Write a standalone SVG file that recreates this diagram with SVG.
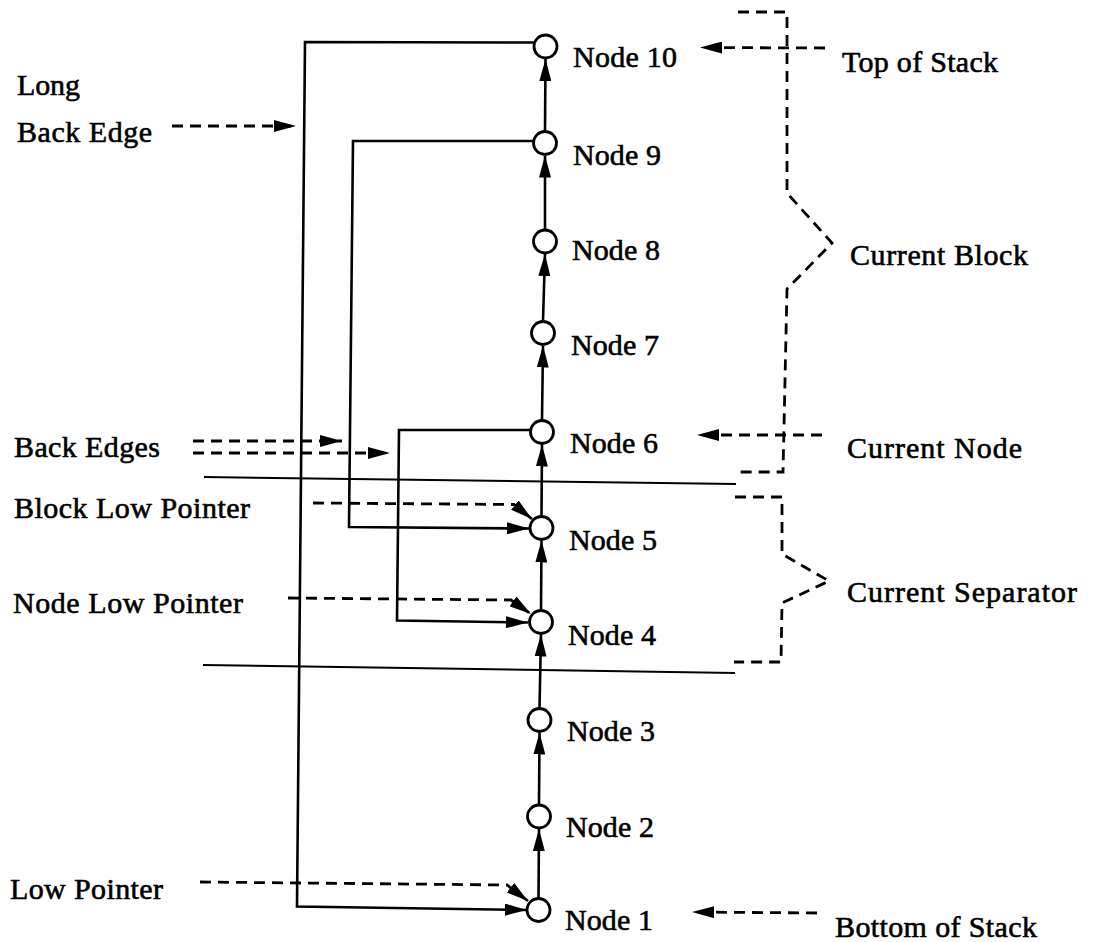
<svg xmlns="http://www.w3.org/2000/svg" width="1098" height="942" viewBox="0 0 1098 942">
<style>
  text { font-family: "Liberation Serif", "Times New Roman", serif; font-size: 30px; fill: #000; stroke: #000; stroke-width: 0.6px; }
  .node circle { fill: #fff; stroke: #000; stroke-width: 2.8; }
  .solid { fill: none; stroke: #000; stroke-width: 2.6; }
  .thin { fill: none; stroke: #000; stroke-width: 2; }
  .dash { fill: none; stroke: #000; stroke-width: 2.8; stroke-dasharray: 11 7; }
  .arr { marker-end: url(#ah); }
</style>
<defs>
  <marker id="ah" markerUnits="userSpaceOnUse" markerWidth="23" markerHeight="12" refX="22" refY="6" orient="auto">
    <path d="M0,0 L22,6 L0,12 z" fill="#000"/>
  </marker>
</defs>
<rect width="1098" height="942" fill="#fff"/>

<g id="connectors">
  <!-- stack edges -->
  <path class="solid arr" d="M538.5,897.5 L539,829"/>
  <path class="solid arr" d="M539,804 L539.5,732.5"/>
  <path class="solid arr" d="M539.5,707.5 L541,634.5"/>
  <path class="solid arr" d="M541,609.5 L541.5,540.5"/>
  <path class="solid arr" d="M541.5,515.5 L542,444.5"/>
  <path class="solid arr" d="M542,419.5 L543,345.5"/>
  <path class="solid arr" d="M543,320.5 L545,254"/>
  <path class="solid arr" d="M545,229 L545,155.5"/>
  <path class="solid arr" d="M545,130.5 L545.5,59"/>
  <!-- back edges -->
  <path class="solid arr" d="M534,42.5 L305,42 L297,906.5 L527,910"/>
  <path class="solid arr" d="M534,141 L353,141 L349,527 L529,528.5"/>
  <path class="solid arr" d="M531,430 L399,430 L397,620.5 L528,622.5"/>
  <!-- separator lines -->
  <path class="thin" d="M204,477 L736,484"/>
  <path class="thin" d="M203,665 L735,673"/>
  <!-- left pointers -->
  <path class="dash arr" d="M172,126 L296,126"/>
  <path class="dash arr" d="M193,441 L342,441"/>
  <path class="dash arr" d="M193,453 L390,453"/>
  <path class="dash arr" d="M313,503 L514,504.5 L532,519"/>
  <path class="dash arr" d="M288,598 L511,600 L531,614"/>
  <path class="dash arr" d="M200,882 L507,885 L528,901"/>
  <!-- right pointers -->
  <path class="dash arr" d="M825,48 L700,47.5"/>
  <path class="dash arr" d="M822,435 L697,435"/>
  <path class="dash arr" d="M817,913 L692,912"/>
  <!-- brackets -->
  <path class="dash" d="M738,12 L787,12 L787,193 L832,243 L787,289 L783,472 L736,472"/>
  <path class="dash" d="M735,497 L782,497 L782,554 L829,581 L782,603 L781,662 L734,662"/>
</g>

<g id="node10" class="node"><circle cx="545.5" cy="46.5" r="11.5"/><text x="573" y="67" textLength="104">Node 10</text></g>
<g id="node9" class="node"><circle cx="545" cy="143" r="11.5"/><text x="573" y="165" textLength="88">Node 9</text></g>
<g id="node8" class="node"><circle cx="545" cy="241.5" r="11.5"/><text x="572" y="260" textLength="88">Node 8</text></g>
<g id="node7" class="node"><circle cx="543" cy="333" r="11.5"/><text x="571" y="355" textLength="88">Node 7</text></g>
<g id="node6" class="node"><circle cx="542" cy="432" r="11.5"/><text x="570" y="453" textLength="88">Node 6</text></g>
<g id="node5" class="node"><circle cx="541.5" cy="528" r="11.5"/><text x="569" y="550" textLength="88">Node 5</text></g>
<g id="node4" class="node"><circle cx="541" cy="622" r="11.5"/><text x="568" y="645" textLength="88">Node 4</text></g>
<g id="node3" class="node"><circle cx="539.5" cy="720" r="11.5"/><text x="567" y="741" textLength="88">Node 3</text></g>
<g id="node2" class="node"><circle cx="539" cy="816.5" r="11.5"/><text x="566" y="837" textLength="88">Node 2</text></g>
<g id="node1" class="node"><circle cx="538.5" cy="910" r="11.5"/><text x="565" y="930" textLength="88">Node 1</text></g>

<g id="labels">
  <text x="17" y="95" textLength="63">Long</text>
  <text x="17" y="142" textLength="135">Back Edge</text>
  <text x="14" y="457" textLength="146">Back Edges</text>
  <text x="14" y="518" textLength="236">Block Low Pointer</text>
  <text x="13" y="613" textLength="230">Node Low Pointer</text>
  <text x="10" y="899" textLength="153">Low Pointer</text>
  <text x="842" y="72" textLength="156">Top of Stack</text>
  <text x="850" y="265" textLength="178">Current Block</text>
  <text x="847" y="458" textLength="175">Current Node</text>
  <text x="847" y="602" textLength="230">Current Separator</text>
  <text x="835" y="937" textLength="202">Bottom of Stack</text>
</g>
</svg>
